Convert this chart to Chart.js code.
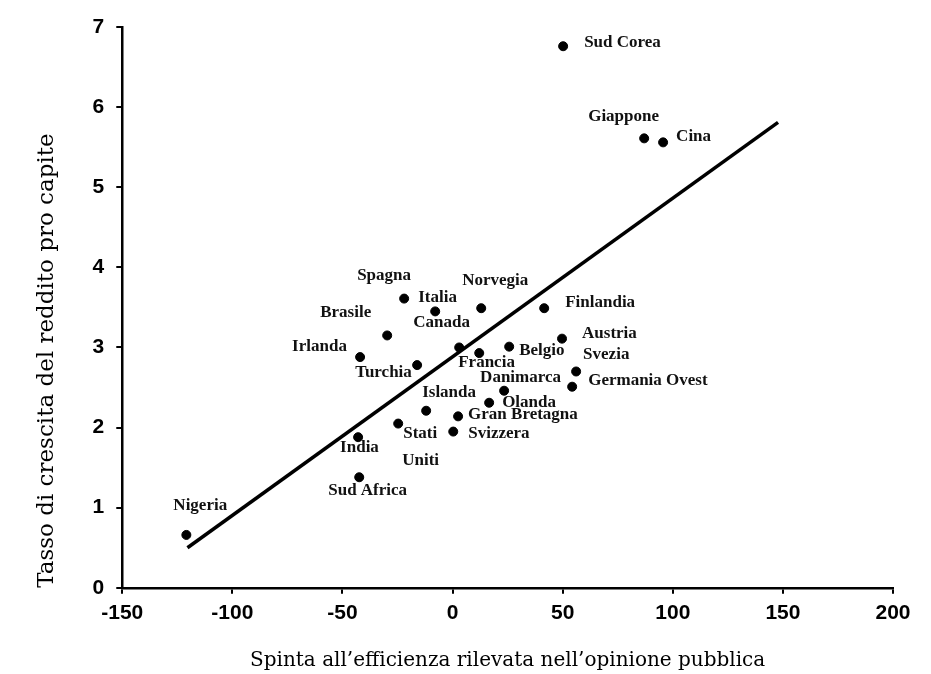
<!DOCTYPE html>
<html>
<head>
<meta charset="utf-8">
<script src="https://cdn.jsdelivr.net/npm/chart.js@4/dist/chart.umd.min.js"></script>
<style>
  html, body { margin: 0; padding: 0; background: #fff; }
  #wrap { width: 931px; height: 674px; }
</style>
</head>
<body>
<div id="wrap"><canvas id="chart" width="931" height="674"></canvas></div>
<script>
// data
const countries = ['Sud Corea', 'Giappone', 'Cina', 'Spagna', 'Italia', 'Norvegia', 'Finlandia',
    'Brasile', 'Canada', 'Austria', 'Irlanda', 'Turchia', 'Francia', 'Belgio', 'Svezia',
    'Germania Ovest', 'Danimarca', 'Olanda', 'Islanda', 'Gran Bretagna', 'Stati Uniti',
    'Svizzera', 'India', 'Sud Africa', 'Nigeria'];
const efficiency = [50.2, 87.0, 95.6, -22.0, -7.9, 13.0, 41.6, -29.7, 3.0, 49.7, -42.0, -16.1,
    12.1, 25.7, 56.1, 54.3, 23.4, 16.6, -12.0, 2.5, -24.7, 0.3, -42.9, -42.4, -120.9];
const growth = [6.76, 5.61, 5.56, 3.61, 3.45, 3.49, 3.49, 3.15, 3.00, 3.11, 2.88, 2.78,
    2.93, 3.01, 2.70, 2.51, 2.46, 2.31, 2.21, 2.14, 2.05, 1.95, 1.88, 1.38, 0.66];

// regression line end points
const fitX = [-120.4, 147.8];
const fitY = [0.50, 5.81];

const xTicks = [-150, -100, -50, 0, 50, 100, 150, 200];
const yTicks = [0, 1, 2, 3, 4, 5, 6, 7];

// where each name sits relative to its dot (pixels)
const labelOffsets = {
    'Sud Corea': [21, -4], 'Giappone': [-56, -22], 'Cina': [13, -6], 'Spagna': [-47, -23],
    'Italia': [-17, -14], 'Norvegia': [-19, -28], 'Finlandia': [21, -6], 'Brasile': [-67, -23],
    'Canada': [-46, -25], 'Austria': [20, -5], 'Irlanda': [-68, -10], 'Turchia': [-62, 8],
    'Francia': [-21, 10], 'Belgio': [10, 4], 'Svezia': [7, -17], 'Germania Ovest': [16, -6],
    'Danimarca': [-24, -13], 'Olanda': [13, 0], 'Islanda': [-4, -18], 'Gran Bretagna': [10, -2],
    'Stati Uniti': [5, 10], 'Svizzera': [15, 2], 'India': [-18, 10], 'Sud Africa': [-31, 13],
    'Nigeria': [-13, -29]
};
const wrapped = ['Stati Uniti'];

const points = efficiency.map((x, i) => ({ x: x, y: growth[i] }));
const fitLine = fitX.map((x, i) => ({ x: x, y: fitY[i] }));

const pointLabels = {
    id: 'pointLabels',
    afterDatasetsDraw(chart) {
        const ctx = chart.ctx;
        const meta = chart.getDatasetMeta(0);
        ctx.save();
        ctx.fillStyle = '#111';
        ctx.font = 'bold 17px "Liberation Serif", serif';
        ctx.textAlign = 'left';
        ctx.textBaseline = 'middle';
        meta.data.forEach((el, i) => {
            const name = countries[i];
            const off = labelOffsets[name] || [8, 0];
            const lines = wrapped.includes(name) ? name.split(' ') : [name];
            lines.forEach((line, j) => {
                ctx.fillText(line, el.x + off[0] - (j ? 1 : 0), el.y + off[1] + j * 27);
            });
        });
        ctx.restore();
    }
};

const tickFont = { family: '"Liberation Sans", Arial, sans-serif', size: 21, weight: 'bold' };

new Chart(document.getElementById('chart').getContext('2d'), {
    type: 'scatter',
    data: {
        datasets: [{
            label: 'Paesi',
            data: points,
            backgroundColor: '#000',
            borderColor: '#000',
            pointRadius: 4.5,
            pointHoverRadius: 4.5
        }, {
            type: 'line',
            label: 'Retta',
            data: fitLine,
            borderColor: '#000',
            borderWidth: 3.5,
            pointRadius: 0,
            fill: false
        }]
    },
    options: {
        responsive: false,
        animation: false,
        layout: { padding: { left: 33, right: 38, top: 27, bottom: 0 } },
        plugins: { legend: { display: false }, tooltip: { enabled: false } },
        scales: {
            x: {
                type: 'linear',
                min: -150, max: 200,
                afterBuildTicks: (axis) => { axis.ticks = xTicks.map(v => ({ value: v })); },
                grid: { drawOnChartArea: false, drawTicks: true, tickLength: 6, color: '#000', lineWidth: 2 },
                border: { display: true, color: '#000', width: 2.5 },
                ticks: { color: '#000', font: tickFont, padding: 7, maxRotation: 0 },
                title: {
                    display: true,
                    text: 'Spinta all’efficienza rilevata nell’opinione pubblica',
                    color: '#000', font: { family: '"DejaVu Serif", serif', size: 20 },
                    padding: { top: 16, bottom: 1 }
                }
            },
            y: {
                type: 'linear',
                min: 0, max: 7,
                afterBuildTicks: (axis) => { axis.ticks = yTicks.map(v => ({ value: v })); },
                grid: { drawOnChartArea: false, drawTicks: true, tickLength: 6, color: '#000', lineWidth: 2 },
                border: { display: true, color: '#000', width: 2.5 },
                ticks: { color: '#000', font: tickFont, padding: 12 },
                title: {
                    display: true,
                    text: 'Tasso di crescita del reddito pro capite',
                    align: 'start',
                    color: '#000', font: { family: '"DejaVu Serif", serif', size: 23 },
                    padding: { top: 0, bottom: 20 }
                }
            }
        }
    },
    plugins: [pointLabels]
});
</script>
</body>
</html>
